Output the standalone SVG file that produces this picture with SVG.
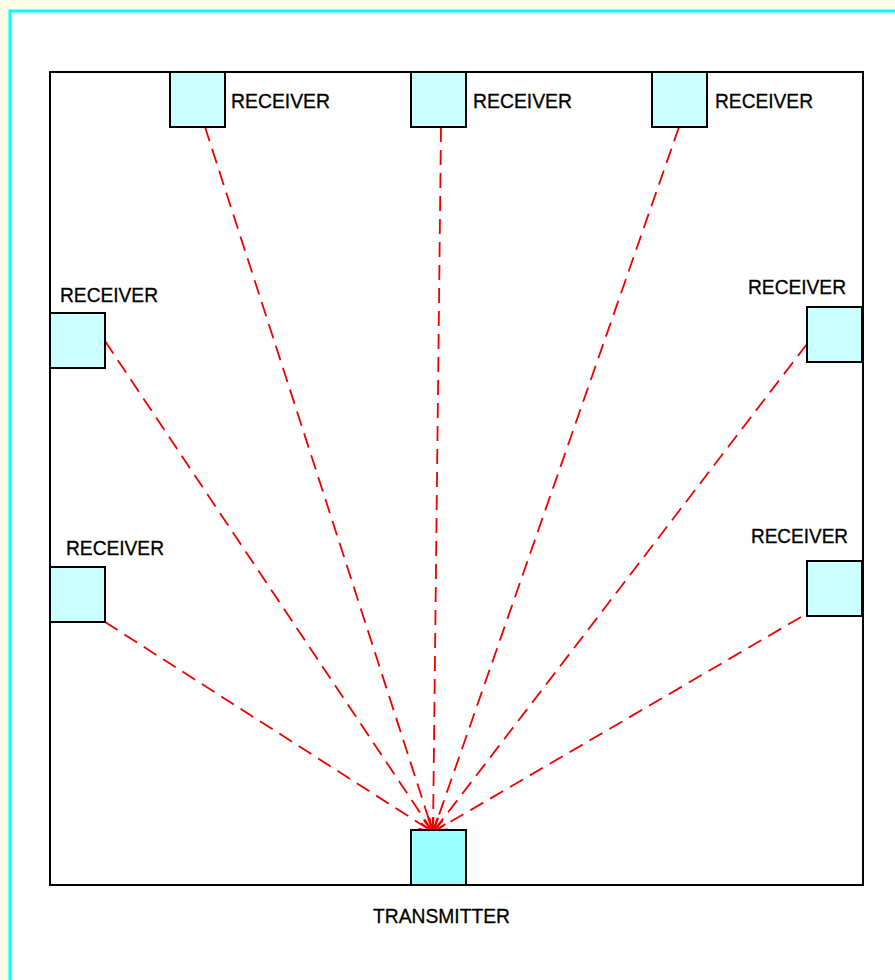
<svg xmlns="http://www.w3.org/2000/svg" width="895" height="980" viewBox="0 0 895 980">
<style>
.rx{fill:#ccffff;stroke:#000;stroke-width:2}
.tx{fill:#99ffff;stroke:#000;stroke-width:2}
.lbl{font-family:"Liberation Sans",Arial,sans-serif;font-size:21px;fill:#000;stroke:#000;stroke-width:0.3}
.conn{fill:none;stroke:#ee0000;stroke-width:1.8;stroke-dasharray:15,8}
</style>
<defs>
<marker id="arr" viewBox="0 0 16 16" refX="15" refY="8" markerWidth="16" markerHeight="16" markerUnits="userSpaceOnUse" orient="auto">
<path d="M1,3 L15,8 L1,13" fill="none" stroke="#ee0000" stroke-width="1.8"/>
</marker>
</defs>
<rect x="0" y="0" width="895" height="980" fill="#fbfde6"/>
<rect x="10" y="11" width="900" height="990" fill="#ffffff" stroke="#00ffff" stroke-width="3"/>
<rect id="room" x="50" y="72" width="813" height="813" fill="none" stroke="#000" stroke-width="2"/>
<g id="connectors">
<line class="conn" x1="205" y1="127" x2="433" y2="832" marker-end="url(#arr)"/>
<line class="conn" x1="441" y1="127" x2="433" y2="832" marker-end="url(#arr)"/>
<line class="conn" x1="679" y1="127" x2="433" y2="832" marker-end="url(#arr)"/>
<line class="conn" x1="105" y1="341" x2="433" y2="832" marker-end="url(#arr)"/>
<line class="conn" x1="105" y1="622" x2="433" y2="832" marker-end="url(#arr)"/>
<line class="conn" x1="807" y1="344" x2="433" y2="832" marker-end="url(#arr)"/>
<line class="conn" x1="801" y1="617" x2="433" y2="832" marker-end="url(#arr)"/>
</g>
<g id="rx-top1"><rect class="rx" x="170" y="72" width="55" height="55"/><text class="lbl" x="231" y="108" textLength="99" lengthAdjust="spacingAndGlyphs">RECEIVER</text></g>
<g id="rx-top2"><rect class="rx" x="411" y="72" width="55" height="55"/><text class="lbl" x="473" y="108" textLength="99" lengthAdjust="spacingAndGlyphs">RECEIVER</text></g>
<g id="rx-top3"><rect class="rx" x="652" y="72" width="55" height="55"/><text class="lbl" x="715" y="108" textLength="98" lengthAdjust="spacingAndGlyphs">RECEIVER</text></g>
<g id="rx-left1"><rect class="rx" x="50" y="313" width="55" height="55"/><text class="lbl" x="60" y="302" textLength="98" lengthAdjust="spacingAndGlyphs">RECEIVER</text></g>
<g id="rx-left2"><rect class="rx" x="50" y="567" width="55" height="55"/><text class="lbl" x="66" y="555" textLength="98" lengthAdjust="spacingAndGlyphs">RECEIVER</text></g>
<g id="rx-right1"><rect class="rx" x="807" y="307" width="55" height="55"/><text class="lbl" x="748" y="294" textLength="98" lengthAdjust="spacingAndGlyphs">RECEIVER</text></g>
<g id="rx-right2"><rect class="rx" x="807" y="561" width="55" height="55"/><text class="lbl" x="751" y="543" textLength="97" lengthAdjust="spacingAndGlyphs">RECEIVER</text></g>
<g id="transmitter"><rect class="tx" x="411" y="830" width="55" height="55"/><text class="lbl" x="373" y="923" textLength="137" lengthAdjust="spacingAndGlyphs">TRANSMITTER</text></g>
</svg>
